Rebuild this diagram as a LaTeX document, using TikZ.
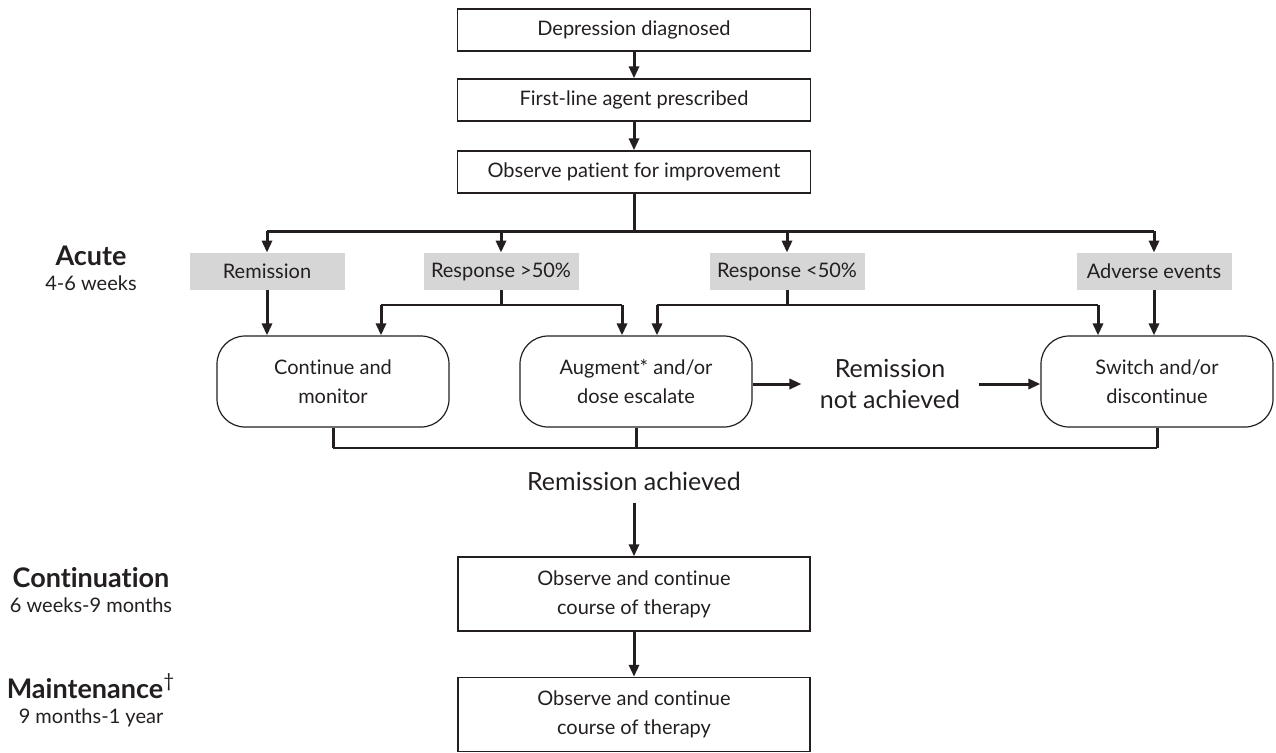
\documentclass[tikz,border=0pt]{standalone}
\usepackage{fontspec}
\setmainfont{Lato}[Ligatures=NoCommon]
\usepackage{tikz}
\usetikzlibrary{arrows.meta}
\definecolor{lightgrey}{RGB}{214,214,214}
\definecolor{ink}{RGB}{35,31,32}

\begin{document}
\begin{tikzpicture}[x=0.5pt,y=-0.5pt,
    box/.style={draw=ink,line width=0.7pt,rectangle,text=ink,align=center,
      font=\fontsize{10}{14.5}\selectfont,minimum width=176.5pt,minimum height=21pt},
    outcome/.style={fill=lightgrey,rectangle,text=ink,font=\fontsize{10}{12}\selectfont,
      minimum width=77.5pt,minimum height=18.5pt},
    action/.style={draw=ink,line width=0.6pt,rounded corners=14pt,text=ink,align=center,
      font=\fontsize{10}{14.5}\selectfont,minimum width=116pt,minimum height=45.5pt},
    bigtext/.style={text=ink,align=center,font=\fontsize{12.5}{15.5}\selectfont},
    phase/.style={text=ink,anchor=base,font=\fontsize{13.5}{16}\selectfont\bfseries},
    period/.style={text=ink,anchor=base,font=\fontsize{10}{12}\selectfont},
    line/.style={draw=ink,line width=1.5pt},
    thinline/.style={draw=ink,line width=1pt},
    arrow/.style={draw=ink,line width=1.5pt,-{Triangle[length=6pt,width=5pt]}}]
\useasboundingbox (0,0) rectangle (1276,752);

% main steps
\node[box] (diag) at (634,30) {Depression diagnosed};
\node[box] (firstline) at (634,100) {First-line agent prescribed};
\node[box] (observe) at (634,172) {Observe patient for improvement};

% outcomes
\node[outcome] (remission) at (267,271.5) {Remission};
\node[outcome] (respup) at (501,271.5) {Response >50\%};
\node[outcome] (respdown) at (787,271.5) {Response <50\%};
\node[outcome] (adverse) at (1154,271.5) {Adverse events};

% actions
\node[action] (contmon) at (333,381.5) {Continue and\\monitor};
\node[action] (augment) at (636,381.5) {Augment* and/or\\dose escalate};
\node[action] (switchdc) at (1157,381.5) {Switch and/or\\discontinue};
\node[bigtext,inner xsep=9pt] (notach) at (890,384) {Remission\\not achieved};
\node[bigtext,inner ysep=6pt] (achieved) at (634,481) {Remission achieved};

% later phases
\node[box,minimum width=176pt,minimum height=37pt] (contin) at (634,594)
  {Observe and continue\\course of therapy};
\node[box,minimum width=176pt,minimum height=37pt] (mainten) at (634,714.5)
  {Observe and continue\\course of therapy};

% phase labels
\node[phase] (acute) at (91,265) {Acute};
\node[period] (acutew) at (91,290) {4-6 weeks};
\node[phase] (continuation) at (91,587) {Continuation};
\node[period] (continw) at (91,612) {6 weeks-9 months};
\node[phase] (maintenance) at (91,698) {Maintenance\textsuperscript{\mdseries\textdagger}};
\node[period] (maintw) at (91,723) {9 months-1 year};

% connectors
\draw[arrow] (diag) -- (firstline);
\draw[arrow] (firstline) -- (observe);

\coordinate (split) at (634,231);
\draw[line] (observe) -- (split);
\draw[line] (remission.north |- split) -- (adverse.north |- split);
\foreach \n in {remission,respup,respdown,adverse}
  \draw[arrow] (\n.north |- split) -- (\n.north);

\coordinate (upsplit) at (501,305);
\coordinate (downsplit) at (787,305);
\draw[line] (respup) -- (upsplit);
\draw[line] (respdown) -- (downsplit);
\draw[thinline] ([xshift=24pt]contmon.north |- upsplit) -- ([xshift=-7pt]augment.north |- upsplit);
\draw[thinline] ([xshift=10.5pt]augment.north |- downsplit) -- ([xshift=-29.5pt]switchdc.north |- downsplit);
\draw[arrow] ([xshift=24pt]contmon.north |- upsplit) -- ([xshift=24pt]contmon.north);
\draw[arrow] ([xshift=-7pt]augment.north |- upsplit) -- ([xshift=-7pt]augment.north);
\draw[arrow] ([xshift=10.5pt]augment.north |- downsplit) -- ([xshift=10.5pt]augment.north);
\draw[arrow] ([xshift=-29.5pt]switchdc.north |- downsplit) -- ([xshift=-29.5pt]switchdc.north);
\draw[arrow] (remission) -- (remission |- contmon.north);
\draw[arrow] (adverse) -- (adverse |- switchdc.north);

\draw[arrow] (augment.east |- notach) -- (notach.west);
\draw[arrow] (notach.east) -- (switchdc.west |- notach);

\coordinate (merge) at (634,448);
\draw[thinline] (contmon.south |- merge) -- (switchdc.south |- merge);
\draw[line] (contmon.south) -- (contmon.south |- merge);
\draw[line] (augment.south) -- (augment.south |- merge);
\draw[line] (switchdc.south) -- (switchdc.south |- merge);

\draw[arrow] (achieved) -- (contin);
\draw[arrow] (contin) -- (mainten);
\end{tikzpicture}
\end{document}
